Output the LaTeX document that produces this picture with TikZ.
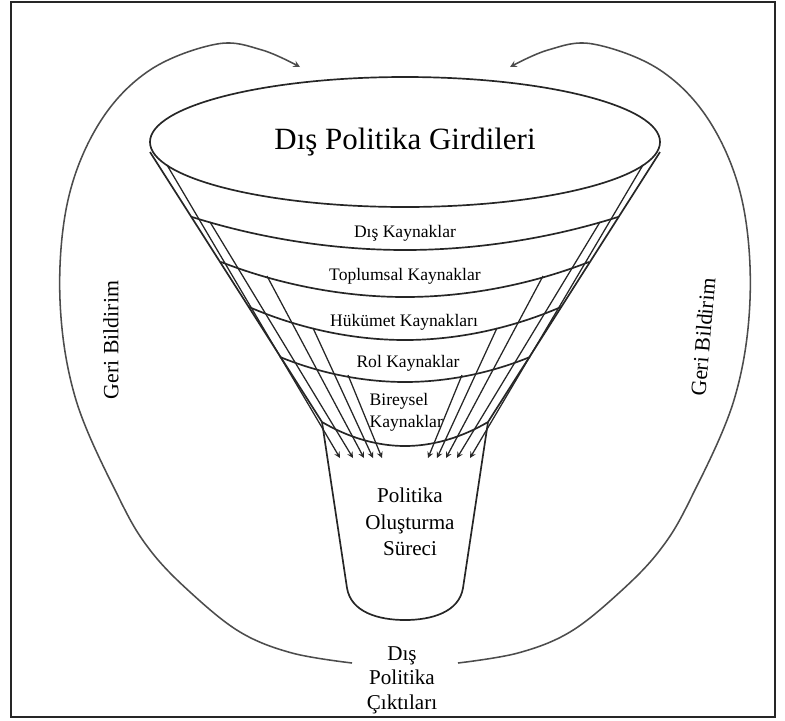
\documentclass[tikz,border=0pt]{standalone}
\usepackage{fontspec}
\setmainfont{Liberation Serif}
\usetikzlibrary{shapes.geometric, arrows}
\tikzstyle{funnel} = [line width=1.2pt, draw=black!85]
\tikzstyle{kaynak} = [font=\fontsize{12.5}{15.5}\selectfont, inner sep=1pt]
\tikzstyle{baslik} = [font=\fontsize{15}{19}\selectfont, align=center, inner sep=1pt]
\tikzstyle{arrow} = [line width=0.9pt, draw=black!85, ->, >=stealth]
\tikzstyle{geri} = [line width=1.1pt, draw=black!70, ->, >=stealth]
\tikzstyle{geriyazi} = [font=\fontsize{15.5}{18}\selectfont, inner sep=1pt]

\begin{document}
\begin{tikzpicture}[x=0.25mm, y=-0.25mm]
    \useasboundingbox (0,0) rectangle (785,720);
    \draw[line width=1.3pt, black!85] (11,2) rectangle (775,717);

    % huni
    \node (girdi) [ellipse, funnel, minimum width=12.75cm, minimum height=3.25cm, font=\fontsize{22}{26}\selectfont] at (405,142) {Dış Politika Girdileri};
    \draw[funnel] (150,152) -- (322,422);
    \draw[funnel] (660,152) -- (488,422);
    \draw[funnel] (192,217) parabola bend (405,250) (618,217);
    \draw[funnel] (221,262) parabola bend (405,297) (589,262);
    \draw[funnel] (249,307) parabola bend (405,340) (561,307);
    \draw[funnel] (280,357) parabola bend (405,382) (530,357);
    \draw[funnel] (322,422) parabola bend (405,446) (488,422);
    \draw[funnel] (322,422) -- (347,588) .. controls (351,612) and (378,620) .. (405,620)
        .. controls (432,620) and (459,612) .. (463,588) -- (488,422);

    \node (dis) [kaynak] at (405,233) {Dış Kaynaklar};
    \node (toplum) [kaynak] at (405,276) {Toplumsal Kaynaklar};
    \node (hukumet) [kaynak] at (404,322) {Hükümet Kaynakları};
    \node (rol) [kaynak] at (408,363) {Rol Kaynaklar};
    \node (bireysel) [kaynak, align=left, anchor=west] at (368,412) {Bireysel\\Kaynaklar};

    % kaynaklardan gelen oklar
    \foreach \sx/\sy/\ex in {167/165/340, 210/222/353, 267/276/364, 313/328/373, 348/375/382}
        \draw[arrow] (\sx,\sy) -- (\ex,458);
    \foreach \sx/\sy/\ex in {643/165/470, 600/222/457, 543/276/446, 497/328/437, 462/375/428}
        \draw[arrow] (\sx,\sy) -- (\ex,458);

    \node (surec) [baslik] at (410,522) {Politika\\Oluşturma\\Süreci};
    \node (cikti) [baslik, font=\fontsize{15}{17.5}\selectfont] at (402,680) {Dış\\Politika\\Çıktıları};

    % geri bildirim
    \coordinate (solalt) at (352,663);
    \coordinate (sagalt) at (458,663);
    \draw[geri] plot[smooth, tension=0.6] coordinates {(solalt) (292,653) (240,632) (190,592) (150,550) (120,500) (76,400) (60,300) (68,200) (100,122) (150,70) (217,44) (262,50) (300,67)};
    \draw[geri] plot[smooth, tension=0.6] coordinates {(sagalt) (518,653) (570,632) (620,592) (660,550) (690,500) (734,400) (750,300) (742,200) (710,122) (660,70) (593,44) (548,50) (510,67)};
    \node (geriL) [geriyazi, rotate=90] at (111,340) {Geri Bildirim};
    \node (geriR) [geriyazi, rotate=85] at (703,337) {Geri Bildirim};
\end{tikzpicture}
\end{document}
